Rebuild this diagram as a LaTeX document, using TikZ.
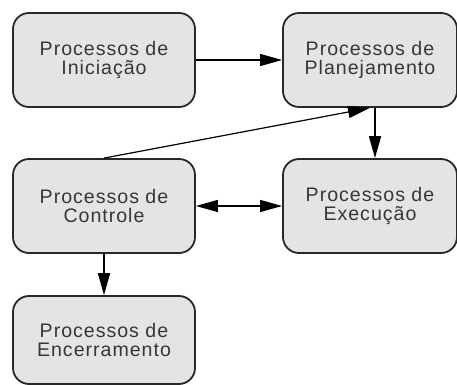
\documentclass[tikz,border=0pt]{standalone}
\usepackage{fontspec}
\setmainfont[LetterSpace=5]{Liberation Sans}
\usetikzlibrary{arrows.meta}

\begin{document}
\begin{tikzpicture}[x=0.5pt,y=-0.5pt]

% ------------------------------------------------ process colors
\definecolor{pr_fill}{RGB}{228,228,228}
\definecolor{pr_line}{RGB}{40,40,40}
\definecolor{pr_text}{RGB}{55,55,55}

\tikzset{
  procbox/.style={draw=pr_line,line width=0.9pt,fill=pr_fill,rounded corners=8pt,
    minimum width=91pt,minimum height=47pt,align=center,text=pr_text,
    font=\fontsize{9.8}{9.6}\selectfont},
  flow/.style={draw=black,line width=0.6pt,-{Triangle[length=11pt,width=6pt]}}
}

\useasboundingbox (0,0) rectangle (457,385);

\node[procbox] (ini) at (104,60)  {Processos de\\Iniciação};
\node[procbox,minimum width=87pt] (pla) at (370,60)  {Processos de\\Planejamento};
\node[procbox] (ctl) at (104,206) {Processos de\\Controle};
\node[procbox,minimum width=87pt] (exe) at (370,206) {Processos de\\Execução};
\node[procbox,minimum height=44pt] (enc) at (104,340) {Processos de\\Encerramento};

\draw[flow] (ini) -- (pla);
\draw[flow,line width=0.8pt] ([xshift=2.5pt]pla.south) -- ([xshift=2.5pt]exe.north);
\draw[flow] (ctl.north) -- (pla.south);
\draw[flow,{Triangle[length=11pt,width=6pt]}-{Triangle[length=11pt,width=6pt]}] (ctl) -- (exe);
\draw[flow,line width=0.8pt] (ctl) -- (enc);

\end{tikzpicture}
\end{document}
